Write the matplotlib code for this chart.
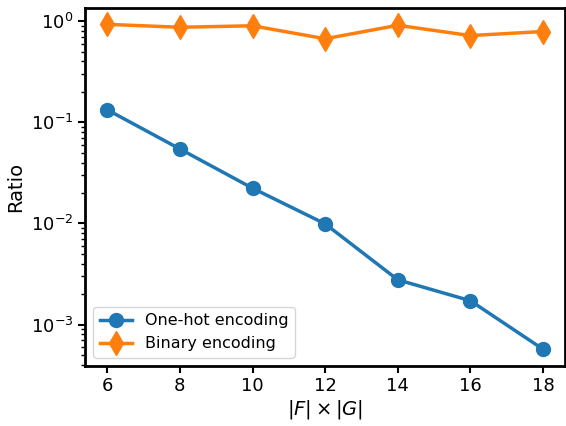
import matplotlib
matplotlib.use("Agg")
import matplotlib.pyplot as plt

sizes = [6, 8, 10, 12, 14, 16, 18]
one_hot = [0.133, 0.0545, 0.0223, 0.0099, 0.00277, 0.00172, 0.00057]
binary = [0.93, 0.87, 0.90, 0.67, 0.91, 0.72, 0.79]

fig, ax = plt.subplots(figsize=(5.66, 4.26), dpi=100)

ax.plot(sizes, one_hot, marker="o", markersize=10, linewidth=2.5, label="One-hot encoding")
ax.plot(sizes, binary, marker="d", markersize=12, linewidth=2.5, label="Binary encoding")

ax.set_yscale("log")
ax.set_xticks(sizes)
ax.set_xlabel(r"$|F| \times |G|$", fontsize=14, labelpad=2)
ax.set_ylabel("Ratio", fontsize=14)
ax.tick_params(axis="both", which="major", labelsize=13, width=1.5, length=5)
ax.tick_params(axis="y", which="minor", width=1.0, length=3)
for sp in ax.spines.values():
    sp.set_linewidth(2)

ax.legend(fontsize=11.5, loc="lower left")

fig.subplots_adjust(left=0.151, right=0.998, top=0.981, bottom=0.142)
plt.savefig("out.png", dpi=100)
plt.close()
